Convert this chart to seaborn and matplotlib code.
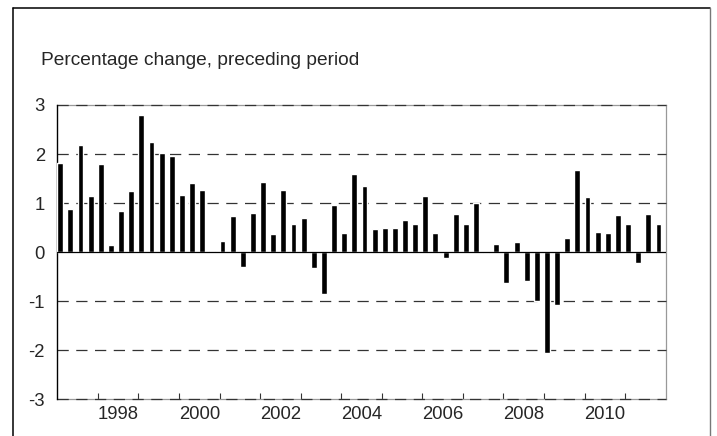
import numpy as np
import pandas as pd
import seaborn as sns
import matplotlib.pyplot as plt
from matplotlib.lines import Line2D

# quarterly growth, 1997Q1 - 2011Q4
years = list(range(1997, 2012))
quarters = [f"{y}Q{q}" for y in years for q in range(1, 5)]
growth = [1.82, 0.88, 2.19, 1.15,
          1.80, 0.15, 0.84, 1.24,
          2.80, 2.24, 2.02, 1.97,
          1.16, 1.41, 1.26, 0.02,
          0.23, 0.74, -0.31, 0.80,
          1.44, 0.37, 1.27, 0.57,
          0.69, -0.33, -0.85, 0.97,
          0.40, 1.59, 1.34, 0.48,
          0.50, 0.50, 0.66, 0.58,
          1.15, 0.39, -0.11, 0.78,
          0.58, 1.00, -0.02, 0.17,
          -0.62, 0.20, -0.58, -0.99,
          -2.05, -1.07, 0.29, 1.67,
          1.13, 0.42, 0.40, 0.76,
          0.57, -0.22, 0.78, 0.57]
year_labels = ['1998', '2000', '2002', '2004', '2006', '2008', '2010']
y_ticks = [-3, -2, -1, 0, 1, 2, 3]
ylabel_text = 'Percentage change, preceding period'

sns.set_style('white')
plt.rcParams['font.family'] = ['Liberation Sans', 'DejaVu Sans']

df = pd.DataFrame({'quarter': quarters, 'growth': growth})

fig = plt.figure(figsize=(7.17, 4.36), dpi=100)
ax = fig.add_axes([0.0799, 0.0842, 0.8486, 0.675])

bw = 0.58
sns.barplot(data=df, x='quarter', y='growth', color='black', width=bw,
            saturation=1, ax=ax, zorder=3)

# bars sit at the left edge of each quarter slot
x0 = -bw / 2
ax.set_xlim(x0, x0 + len(quarters))
ax.set_ylim(-3, 3)

for v in y_ticks:
    if v == 0:
        ax.axhline(0, color='black', lw=0.9, zorder=4)
    else:
        ax.axhline(v, color='#333333', lw=0.9, ls=(0, (9, 6)), zorder=2,
                   clip_on=False)

ax.set_yticks(y_ticks)
ax.set_yticklabels([str(v) for v in y_ticks])
ax.tick_params(axis='y', length=0, pad=9, labelsize=13.3)

# year boundaries as small inward ticks, labels centred on even years
ax.set_xticks([x0 + 4 * k for k in range(1, len(years))], minor=True)
ax.set_xticks([x0 + 4 * (int(y) - 1997) + 2 for y in year_labels])
ax.set_xticklabels(year_labels)
ax.tick_params(axis='x', which='minor', direction='in', length=4, width=0.8,
               color='#333333', bottom=True)
ax.tick_params(axis='x', which='major', length=0, pad=5, labelsize=13.3)
ax.set_xlabel('')
ax.set_ylabel('')

ax.spines['left'].set_color('black')
ax.spines['left'].set_linewidth(1.0)
for s in ['top', 'bottom', 'right']:
    ax.spines[s].set_color('#999999')
    ax.spines[s].set_linewidth(0.9)
    ax.spines[s].set_zorder(1)

fig.text(41 / 717, 1 - 65 / 436, ylabel_text, fontsize=13.8, va='baseline',
         ha='left')

# outer frame
fl, ft, fr = 12.7 / 717, 1 - 8.3 / 436, 709.5 / 717
fig.add_artist(Line2D([fl, fr], [ft, ft], color='black', lw=1.1,
                      transform=fig.transFigure))
fig.add_artist(Line2D([fl, fl], [ft, -0.01], color='black', lw=1.1,
                      transform=fig.transFigure))
fig.add_artist(Line2D([fr, fr], [ft, -0.01], color='#777777', lw=1.0,
                      transform=fig.transFigure))

fig.savefig('out.png', dpi=100)
